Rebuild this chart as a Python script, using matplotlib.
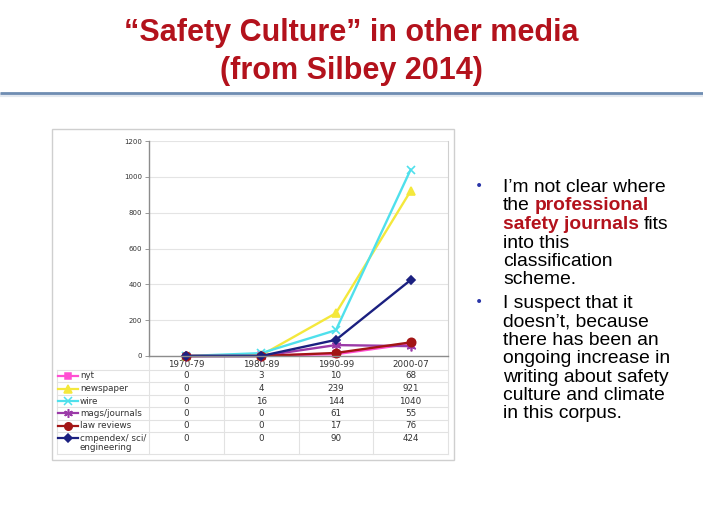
import matplotlib
matplotlib.use('Agg')
import matplotlib.pyplot as plt
from matplotlib.patches import Rectangle
from matplotlib.transforms import blended_transform_factory

# data (Silbey 2014 table)
periods = ['1970-79', '1980-89', '1990-99', '2000-07']
series_labels = ['nyt', 'newspaper', 'wire', 'mags/journals', 'law reviews',
                 'cmpendex/ sci/\nengineering']
nyt = [0, 3, 10, 68]
newspaper = [0, 4, 239, 921]
wire = [0, 16, 144, 1040]
mags_journals = [0, 0, 61, 55]
law_reviews = [0, 0, 17, 76]
cmpendex = [0, 0, 90, 424]
y_ticks = [0, 200, 400, 600, 800, 1000, 1200]

all_series = [nyt, newspaper, wire, mags_journals, law_reviews, cmpendex]
colors = ['#FF4FD2', '#F4E83C', '#4FE0EC', '#9B3AA8', '#A31515', '#1B2080']
markers = ['s', '^', 'x', (6, 2, 0), 'o', 'D']
msizes = [5, 6, 6, 7, 6, 4.5]

W, H = 703, 527
RED = '#B3121C'
TXT = '#333333'

fig = plt.figure(figsize=(W / 100, H / 100), dpi=100)
bg = fig.add_axes([0, 0, 1, 1])
bg.set_xlim(0, W)
bg.set_ylim(H, 0)
bg.axis('off')


def frac(x0, y0, x1, y1):
    return [x0 / W, 1 - y1 / H, (x1 - x0) / W, (y1 - y0) / H]


# title
title_font = dict(family=['Liberation Sans', 'DejaVu Sans'], weight='bold',
                  color=RED, fontsize=22, ha='center', va='baseline')
bg.text(351, 41, '\u201cSafety Culture\u201d in other media', **title_font)
bg.text(351, 79, '(from Silbey 2014)', **title_font)
bg.plot([0, W], [95, 95], color='#E3E8EF', lw=3, solid_capstyle='butt')
bg.plot([0, W], [93, 93], color='#6F8DB2', lw=2, solid_capstyle='butt')

# chart panel
bg.add_patch(Rectangle((52, 129), 402, 331, facecolor='white',
                       edgecolor='#CFCFCF', lw=1))

ax = fig.add_axes(frac(149, 141, 448, 356))
ax.set_xlim(-0.5, len(periods) - 0.5)
ax.set_ylim(0, 1200)
ax.set_yticks(y_ticks)
ax.set_yticklabels([str(v) for v in y_ticks], fontsize=5, color=TXT)
ax.set_xticks(range(len(periods)))
ax.set_xticklabels(periods, fontsize=6.3, color=TXT)
ax.tick_params(axis='x', length=0, pad=3)
ax.tick_params(axis='y', length=3, width=0.6, color='#888888', pad=2)
ax.grid(axis='y', color='#E4E4E4', lw=0.8)
ax.set_axisbelow(True)
for side in ['left', 'bottom']:
    ax.spines[side].set_color('#8C8C8C')
    ax.spines[side].set_linewidth(1)
ax.spines['right'].set_color('#CFCFCF')
ax.spines['top'].set_visible(False)

x = list(range(len(periods)))
for vals, c, m, ms in zip(all_series, colors, markers, msizes):
    ax.plot(x, vals, color=c, lw=1.7, marker=m, markersize=ms,
            markeredgewidth=1.2, clip_on=False)

# data table under the chart
tr = blended_transform_factory(ax.transData, bg.transData)
grid_kw = dict(color='#E2E2E2', lw=0.8)
row_centers = [376, 388.5, 401, 413.3, 425.7, 438.3]
row_lines = [370, 382.3, 394.7, 407, 419.5, 432, 453.5]
for yl in row_lines:
    bg.plot([57, 448], [yl, yl], **grid_kw)
for xb in [-0.5, 0.5, 1.5, 2.5, 3.5]:
    bg.plot([xb, xb], [356, 453.5], transform=tr, **grid_kw)
bg.plot([57, 57], [370, 453.5], **grid_kw)

for i, vals in enumerate(all_series):
    yc = row_centers[i]
    for j, v in enumerate(vals):
        bg.text(j, yc, str(v), transform=tr, ha='center', va='center',
                fontsize=6.3, color=TXT)
    bg.plot([58, 78], [yc, yc], color=colors[i], lw=1.6)
    bg.plot([68], [yc], color=colors[i], marker=markers[i],
            markersize=msizes[i] * 0.9, markeredgewidth=1.1)
    bg.text(80, yc - 4.5 if i == 5 else yc, series_labels[i],
            ha='left', va='top' if i == 5 else 'center', fontsize=6.3,
            color=TXT, linespacing=1.0)

# bullet text on the right
body = dict(family=['Liberation Sans', 'DejaVu Sans'], fontsize=13.9,
            color='black', va='baseline', ha='left')
bold_red = dict(body, weight='bold', color=RED)
tx = 503
for yb in [192, 308]:
    bg.text(479, yb - 2, '\u2022', color='#2A35A8', fontsize=10,
            ha='center', va='baseline')


def follow(prev, text, y, style, gap=5.3):
    return bg.annotate(text, xy=(1, y), xycoords=(prev, 'data'),
                       xytext=(gap, 0), textcoords='offset pixels', **style)


bg.text(tx, 192, 'I\u2019m not clear where', **body)
t = bg.text(tx, 210.5, 'the', **body)
follow(t, 'professional', 210.5, bold_red)
t = bg.text(tx, 229, 'safety journals', **bold_red)
follow(t, 'fits', 229, body)
bg.text(tx, 247.5, 'into this', **body)
bg.text(tx, 266, 'classification', **body)
bg.text(tx, 284.5, 'scheme.', **body)

more = ['I suspect that it', 'doesn\u2019t, because', 'there has been an',
        'ongoing increase in', 'writing about safety',
        'culture and climate', 'in this corpus.']
for k, line in enumerate(more):
    bg.text(tx, 308 + 18.4 * k, line, **body)

fig.savefig('out.png', dpi=100)
